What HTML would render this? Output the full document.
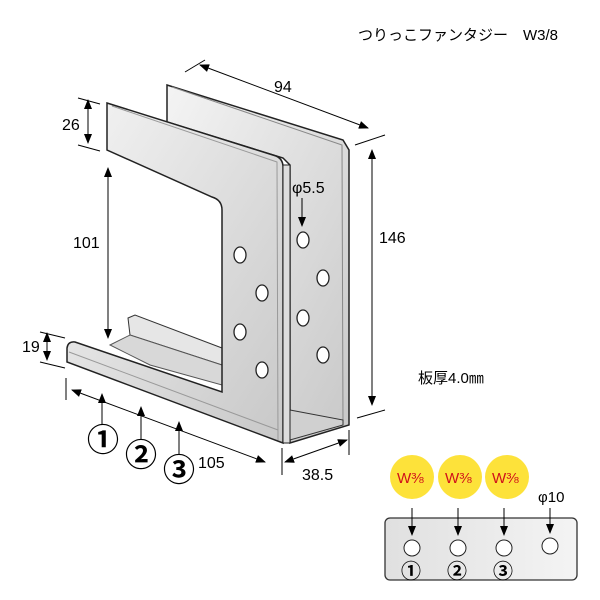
<!DOCTYPE html><html><head><meta charset="utf-8"><style>body{margin:0;background:#fff}svg{display:block}text{font-family:"Liberation Sans","Noto Sans CJK JP",sans-serif}</style></head><body>
<svg width="600" height="600" viewBox="0 0 600 600">
<defs>
<marker id="a" markerWidth="10" markerHeight="10" refX="9" refY="5" orient="auto-start-reverse" markerUnits="userSpaceOnUse"><path d="M0,1L10,5L0,9z" fill="#000"/></marker>
<linearGradient id="g" x1="0" y1="0" x2="1" y2="1"><stop offset="0" stop-color="#f4f4f4"/><stop offset="1" stop-color="#c8c8c8"/></linearGradient>
<linearGradient id="p" x1="0" y1="0" x2="1" y2="0"><stop offset="0" stop-color="#e0e0e0"/><stop offset="1" stop-color="#f4f4f4"/></linearGradient>
</defs>
<text x="358" y="40" font-size="15">つりっこファンタジー　W3/8</text>
<polygon points="167,85 343,140 349,150 349,425 290,443 290,165 283,158 167,122" fill="url(#g)" stroke="#222" stroke-width="1.5"/>
<polyline points="172,87 342,145 343,425" fill="none" stroke="#888"/>
<polygon points="290,410 343,420 343,425 290,440" fill="#d0d0d0" stroke="#333"/>
<polygon points="128,318 135,315 222,348 222,365 130,335" fill="#e6e6e6" stroke="#333"/>
<polygon points="110,345 130,335 222,365 222,385 150,365" fill="#d8d8d8" stroke="#555"/>
<path d="M107,103 L276,156 Q283,159 283,167 L283,443 L67,362 L67,348 Q68,341 75,342 L222,392 L222,210 Q222,200 212,197 L107,150 Z" fill="url(#g)" stroke="#222" stroke-width="1.5"/>
<polygon points="283,165 290,165 290,443 283,443" fill="#ddd" stroke="#222"/>
<polyline points="112,106 277,162 278,440" fill="none" stroke="#999"/>
<polyline points="69,352 278,430" fill="none" stroke="#999"/>
<g fill="#fff" stroke="#222" stroke-width="1.3">
<ellipse cx="240" cy="255" rx="6" ry="8"/><ellipse cx="262" cy="293" rx="6" ry="8"/><ellipse cx="240" cy="332" rx="6" ry="8"/><ellipse cx="262" cy="370" rx="6" ry="8"/>
<ellipse cx="303" cy="240" rx="6" ry="8"/><ellipse cx="323" cy="278" rx="6" ry="8"/><ellipse cx="303" cy="318" rx="6" ry="8"/><ellipse cx="323" cy="355" rx="6" ry="8"/>
</g>
<g stroke="#000" stroke-width="1" fill="none">
<line x1="200" y1="65" x2="368" y2="128" marker-start="url(#a)" marker-end="url(#a)"/>
<line x1="185" y1="72" x2="205" y2="60"/>
<line x1="372" y1="150" x2="372" y2="405" marker-start="url(#a)" marker-end="url(#a)"/>
<line x1="355" y1="145" x2="385" y2="135"/><line x1="357" y1="418" x2="385" y2="410"/>
<line x1="88" y1="100" x2="88" y2="143" marker-start="url(#a)" marker-end="url(#a)"/>
<line x1="78" y1="98" x2="100" y2="104"/><line x1="78" y1="145" x2="100" y2="151"/>
<line x1="108" y1="168" x2="108" y2="338" marker-start="url(#a)" marker-end="url(#a)"/>
<line x1="47" y1="333" x2="47" y2="360" marker-start="url(#a)" marker-end="url(#a)"/>
<line x1="40" y1="332" x2="65" y2="338"/><line x1="40" y1="362" x2="65" y2="368"/>
<line x1="72" y1="390" x2="265" y2="462" marker-start="url(#a)" marker-end="url(#a)"/>
<line x1="66" y1="378" x2="66" y2="400"/><line x1="282" y1="448" x2="282" y2="475"/>
<line x1="285" y1="462" x2="347" y2="440" marker-start="url(#a)" marker-end="url(#a)"/>
<line x1="349" y1="430" x2="349" y2="455"/>
<line x1="102" y1="425" x2="102" y2="394" marker-end="url(#a)"/>
<line x1="141" y1="440" x2="141" y2="407" marker-end="url(#a)"/>
<line x1="179" y1="455" x2="179" y2="422" marker-end="url(#a)"/>
<line x1="302" y1="198" x2="302" y2="226" marker-end="url(#a)"/>
</g>
<text x="274" y="92" font-size="16">94</text>
<text x="379" y="243" font-size="16">146</text>
<text x="62" y="130" font-size="16">26</text>
<text x="73" y="248" font-size="16">101</text>
<text x="22" y="352" font-size="16">19</text>
<text x="198" y="468" font-size="16">105</text>
<text x="302" y="480" font-size="16">38.5</text>
<text x="292" y="193" font-size="16">φ5.5</text>
<text x="418" y="383" font-size="15">板厚4.0㎜</text>
<g font-size="32" font-weight="bold"><text x="87" y="451">①</text><text x="125" y="466">②</text><text x="163" y="481">③</text></g>
<rect x="385" y="518" width="192" height="62" rx="5" fill="url(#p)" stroke="#333" stroke-width="1.3"/>
<g fill="#fde23a"><circle cx="412" cy="477" r="22"/><circle cx="460" cy="477" r="22"/><circle cx="507" cy="477" r="22"/></g>
<g font-size="15" fill="#d0101a"><text x="397" y="483">W⅜</text><text x="445" y="483">W⅜</text><text x="492" y="483">W⅜</text></g>
<text x="538" y="502" font-size="15">φ10</text>
<g stroke="#000" fill="none"><line x1="412" y1="508" x2="412" y2="535" marker-end="url(#a)"/><line x1="458" y1="508" x2="458" y2="535" marker-end="url(#a)"/><line x1="504" y1="508" x2="504" y2="535" marker-end="url(#a)"/><line x1="550" y1="508" x2="550" y2="533" marker-end="url(#a)"/></g>
<g fill="#fff" stroke="#222"><circle cx="412" cy="548" r="8"/><circle cx="458" cy="548" r="8"/><circle cx="504" cy="548" r="8"/><circle cx="550" cy="546" r="8"/></g>
<g font-size="20" font-weight="bold"><text x="401" y="578">①</text><text x="447" y="578">②</text><text x="493" y="578">③</text></g>
</svg></body></html>
